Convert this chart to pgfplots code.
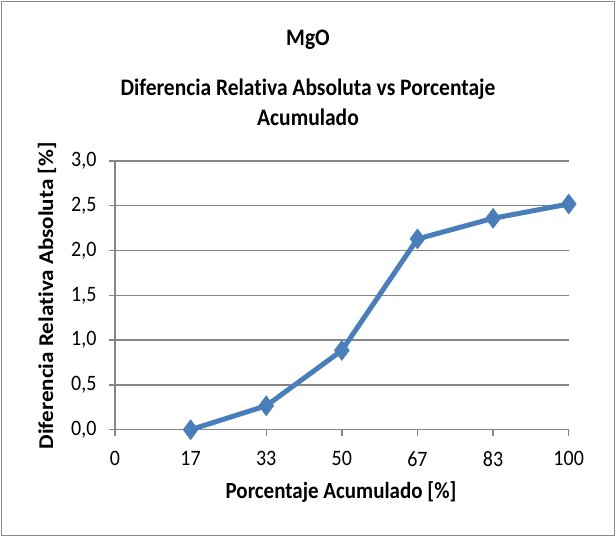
\documentclass[border=0pt]{standalone}
\usepackage{pgfplots}
\pgfplotsset{compat=1.18}
\usepackage{fontspec}
\setmainfont{Carlito}[Ligatures={NoCommon}]
\definecolor{lineblue}{HTML}{4A7EBB}
\definecolor{gridgray}{HTML}{868686}
\begin{document}
\begin{tikzpicture}[x=1pt,y=1pt]
\useasboundingbox (0,0) rectangle (616,537);
\draw[gridgray, line width=1.2pt] (1.5,1.5) rectangle (614.5,535.5);
\begin{axis}[
  at={(115pt,107.3pt)}, anchor=south west,
  scale only axis, width=453.7pt, height=268.7pt,
  xmin=0, xmax=6, ymin=0, ymax=3,
  xtick={0,1,2,3,4,5,6}, xticklabels={0,17,33,50,67,83,100},
  ytick={0,0.5,1,1.5,2,2.5,3},
  axis lines*=left,
  axis line style={gridgray, line width=1.3pt},
  tick align=outside, major tick length=6pt,
  tick style={gridgray, line width=1.3pt},
  ymajorgrids, grid style={gridgray, line width=1.3pt},
  /pgf/number format/assume math mode=true,
  yticklabel={\pgfmathprintnumber[fixed,fixed zerofill,precision=1,use comma]{\tick}},
  tick label style={font=\fontsize{20}{24}\selectfont, yscale=1.1},
  xticklabel style={yshift=-11pt},
  yticklabel style={xshift=-9pt},
  clip=false,
]
\addplot[lineblue, line width=5pt, mark=diamond*, mark size=10pt,
  mark options={solid, fill=lineblue, draw=lineblue, line width=0.5pt}]
  coordinates {(1,0) (2,0.267) (3,0.885) (4,2.13) (5,2.36) (6,2.52)};
\end{axis}
\node[font=\bfseries\fontsize{21.5}{25}\selectfont, yscale=1.1] at (308,497) {MgO};
\node[font=\bfseries\fontsize{21.5}{25}\selectfont, yscale=1.1] at (308,448) {Diferencia Relativa Absoluta vs Porcentaje};
\node[font=\bfseries\fontsize{21.5}{25}\selectfont, yscale=1.1] at (308,420) {Acumulado};
\node[font=\bfseries\fontsize{21}{25}\selectfont, rotate=90, xscale=1.1] at (47,241) {Diferencia Relativa Absoluta [\%]};
\node[font=\bfseries\fontsize{21}{25}\selectfont, yscale=1.1] at (341,45) {Porcentaje Acumulado [\%]};
\end{tikzpicture}
\end{document}
